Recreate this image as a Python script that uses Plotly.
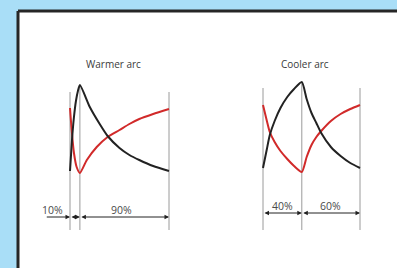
import plotly.graph_objects as go

# ---- data (time in % of cycle, value relative to baseline) ----
warm_split = [0, 10, 100]
cool_split = [0, 40, 100]
warm_labels = ["10%", "90%"]
cool_labels = ["40%", "60%"]
titles = ["Warmer arc", "Cooler arc"]

warm_black_t = [0, 2, 4, 6, 8, 10, 20, 30, 38, 50, 60, 70, 84, 100]
warm_black_v = [0.14, 0.45, 0.68, 0.84, 0.94, 1.00, 0.78, 0.61, 0.49, 0.37, 0.30, 0.25, 0.19, 0.14]
warm_red_t = [0, 1.7, 4, 6.7, 10, 17, 27, 38, 50, 60, 70, 84, 100]
warm_red_v = [0.77, 0.55, 0.32, 0.18, 0.12, 0.25, 0.38, 0.48, 0.55, 0.61, 0.66, 0.71, 0.76]

cool_black_t = [0, 4, 7, 12, 18, 25, 32, 40, 45, 50, 55, 60, 70, 80, 90, 100]
cool_black_v = [0.17, 0.36, 0.50, 0.64, 0.77, 0.88, 0.96, 1.03, 0.86, 0.72, 0.62, 0.52, 0.38, 0.29, 0.22, 0.17]
cool_red_t = [0, 4, 7, 12, 18, 25, 32, 40, 45, 50, 55, 60, 70, 80, 90, 100]
cool_red_v = [0.80, 0.64, 0.53, 0.43, 0.34, 0.26, 0.19, 0.13, 0.28, 0.40, 0.48, 0.54, 0.64, 0.71, 0.76, 0.80]

W, H = 397, 268
BLACK = "#222222"
RED = "#d12a2a"
GRAY = "#9a9a9a"
TXT = "#4a4a4a"

fig = go.Figure()

panels = [
    dict(xa="x", ya="y", split=warm_split, labels=warm_labels, title=titles[0],
         bt=warm_black_t, bv=warm_black_v, rt=warm_red_t, rv=warm_red_v,
         vtop=0.93, dim_y=-0.32, lab_y=-0.25, lead=-25),
    dict(xa="x2", ya="y", split=cool_split, labels=cool_labels, title=titles[1],
         bt=cool_black_t, bv=cool_black_v, rt=cool_red_t, rv=cool_red_v,
         vtop=0.97, dim_y=-0.28, lab_y=-0.21, lead=None),
]

vbottom = -0.45
for p in panels:
    s = p["split"]
    peak = max(p["bv"])
    # vertical guide lines
    for i, t in enumerate(s):
        top = p["vtop"] if i != 1 else peak
        fig.add_trace(go.Scatter(x=[t, t], y=[top, vbottom], mode="lines",
                                 line=dict(color=GRAY, width=1), xaxis=p["xa"], yaxis=p["ya"],
                                 hoverinfo="skip", showlegend=False))
    # curves
    fig.add_trace(go.Scatter(x=p["rt"], y=p["rv"], mode="lines",
                             line=dict(color=RED, width=2, shape="spline", smoothing=0.6),
                             xaxis=p["xa"], yaxis=p["ya"], showlegend=False))
    fig.add_trace(go.Scatter(x=p["bt"], y=p["bv"], mode="lines",
                             line=dict(color=BLACK, width=2, shape="spline", smoothing=0.6),
                             xaxis=p["xa"], yaxis=p["ya"], showlegend=False))
    # title
    fig.add_annotation(x=50 - 6.5, y=1.21, xref=p["xa"], yref=p["ya"], text=p["title"],
                       showarrow=False, font=dict(size=10, color="#3a3a3a", family="Open Sans"))
    # dimension arrows
    segs = [(s[0], s[1]), (s[1], s[2])]
    for a, b in segs:
        fig.add_annotation(x=b, y=p["dim_y"], ax=a, ay=p["dim_y"], xref=p["xa"], yref=p["ya"],
                           axref=p["xa"], ayref=p["ya"], text="", showarrow=True,
                           arrowhead=2, arrowside="end+start", arrowsize=0.9, arrowwidth=1,
                           arrowcolor=BLACK)
    if p["lead"] is not None:
        fig.add_annotation(x=s[0], y=p["dim_y"], ax=p["lead"], ay=p["dim_y"], xref=p["xa"],
                           yref=p["ya"], axref=p["xa"], ayref=p["ya"], text="", showarrow=True,
                           arrowhead=2, arrowsize=0.9, arrowwidth=1, arrowcolor=BLACK)
    # percentage labels
    if p["lead"] is not None:
        lab_x = [-18, 52.5]
    else:
        lab_x = [(s[0] + s[1]) / 2, (s[1] + s[2]) / 2]
    for lx, lt in zip(lab_x, p["labels"]):
        fig.add_annotation(x=lx, y=p["lab_y"], xref=p["xa"], yref=p["ya"], text=lt,
                           showarrow=False, font=dict(size=10.5, color=TXT, family="Open Sans"))

# baseline
fig.add_shape(type="line", xref="paper", yref="y", x0=41 / W, x1=388 / W, y0=0, y1=0,
              line=dict(color=GRAY, width=1), layer="below")
# white panel with dark top/left border
fig.add_shape(type="rect", xref="paper", yref="paper", x0=18 / W, x1=1.1, y0=-0.1, y1=1 - 11 / H,
              fillcolor="white", line=dict(width=0), layer="below")
fig.add_shape(type="line", xref="paper", yref="paper", x0=18 / W, x1=1.1, y0=1 - 11 / H, y1=1 - 11 / H,
              line=dict(color="#262626", width=3), layer="below")
fig.add_shape(type="line", xref="paper", yref="paper", x0=18 / W, x1=18 / W, y0=-0.1, y1=1 - 11 / H,
              line=dict(color="#262626", width=3), layer="below")

fig.update_layout(
    width=W, height=H, margin=dict(l=0, r=0, t=0, b=0),
    paper_bgcolor="#a9def7", plot_bgcolor="rgba(0,0,0,0)",
    xaxis=dict(domain=[0, 1], range=[-70 / 0.99, (W - 70) / 0.99], visible=False, fixedrange=True),
    xaxis2=dict(domain=[0, 1], range=[-263 / 0.97, (W - 263) / 0.97], visible=False,
                overlaying="x", fixedrange=True),
    yaxis=dict(domain=[0, 1], range=[(185 - H) / 100, 1.85], visible=False, fixedrange=True),
    showlegend=False,
)

fig.write_html(
    "out.html",
    config={"displayModeBar": False},
    post_script=(
        "document.documentElement.style.overflow='hidden';"
        "document.documentElement.style.margin='0';"
        "document.body.style.margin='0';"
        "document.body.style.overflow='hidden';"
    ),
)
